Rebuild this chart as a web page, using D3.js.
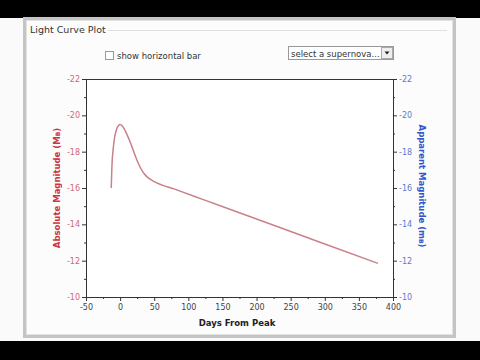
<!DOCTYPE html>
<html>
<head>
<meta charset="utf-8">
<script src="https://cdn.jsdelivr.net/npm/d3@7"></script>
<style>
  body { margin: 0; background: #fafafa; }
  svg { display: block; font-family: "DejaVu Sans", Verdana, sans-serif; }
</style>
</head>
<body>
<svg id="chart" width="480" height="360"></svg>
<script>
// light curve: days from peak vs absolute magnitude
var days = [-13, -12, -10, -8, -5, -2, 0, 3, 6, 10, 15, 20, 25, 30, 35, 40, 50, 80, 120, 200, 300, 378];
var mags = [-16.0, -17.2, -18.2, -18.8, -19.25, -19.45, -19.5, -19.42, -19.25, -18.95, -18.5, -18.0, -17.5, -17.1, -16.8, -16.6, -16.35, -15.94, -15.39, -14.29, -12.92, -11.85];
var xTicks = [-50, 0, 50, 100, 150, 200, 250, 300, 350, 400];
var yTicks = [-22, -20, -18, -16, -14, -12, -10];

var svg = d3.select('#chart');
var margin = { left: 86, right: 393, top: 79, bottom: 297 };
var plain = function (d) { return String(d); };   // hyphen, not unicode minus

// window chrome
svg.append('rect').attr('x', 0).attr('y', 0).attr('width', 480).attr('height', 18).attr('fill', '#000');
svg.append('rect').attr('x', 0).attr('y', 341).attr('width', 480).attr('height', 19).attr('fill', '#000');
svg.append('rect').attr('x', 24.5).attr('y', 18.5).attr('width', 430).attr('height', 318)
    .attr('fill', '#fcfcfc').attr('stroke', '#c4c4c4').attr('stroke-width', 3);
svg.append('rect').attr('x', 26.5).attr('y', 20.5).attr('width', 426).attr('height', 314)
    .attr('fill', 'none').attr('stroke', '#e2e2e2').attr('stroke-width', 1);
svg.append('line').attr('x1', 108).attr('x2', 447).attr('y1', 30.5).attr('y2', 30.5)
    .attr('stroke', '#e0e0e0');
svg.append('text').attr('x', 30).attr('y', 33).attr('font-size', 9.5).attr('fill', '#333')
    .text('Light Curve Plot');

// controls
svg.append('rect').attr('x', 105.5).attr('y', 51.5).attr('width', 8).attr('height', 8)
    .attr('fill', '#fff').attr('stroke', '#999');
svg.append('text').attr('x', 117).attr('y', 59).attr('font-size', 8.5).attr('fill', '#333')
    .text('show horizontal bar');
svg.append('rect').attr('x', 288.5).attr('y', 46.5).attr('width', 105).attr('height', 13)
    .attr('fill', '#fff').attr('stroke', '#999');
svg.append('text').attr('x', 291).attr('y', 56.5).attr('font-size', 8.5).attr('fill', '#333')
    .text('select a supernova...');
svg.append('rect').attr('x', 381.5).attr('y', 47.5).attr('width', 11).attr('height', 11)
    .attr('fill', '#eee').attr('stroke', '#aaa');
svg.append('path').attr('d', 'M384.5,51.5 L389.5,51.5 L387,54.5 Z').attr('fill', '#222');

// scales
var x = d3.scaleLinear().domain([-50, 400]).range([margin.left, margin.right]);
var y = d3.scaleLinear().domain([-22, -10]).range([margin.top, margin.bottom]);

svg.append('rect').attr('x', margin.left).attr('y', margin.top)
    .attr('width', margin.right - margin.left).attr('height', margin.bottom - margin.top)
    .attr('fill', '#fff');

// minor ticks
var minorX = svg.append('g').attr('transform', 'translate(0,' + margin.bottom + ')')
    .call(d3.axisBottom(x).tickValues(d3.range(-25, 400, 50)).tickSize(2).tickFormat(''));
var minorL = svg.append('g').attr('transform', 'translate(' + margin.left + ',0)')
    .call(d3.axisLeft(y).tickValues(d3.range(-21, -10, 2)).tickSize(2).tickFormat(''));
var minorR = svg.append('g').attr('transform', 'translate(' + margin.right + ',0)')
    .call(d3.axisRight(y).tickValues(d3.range(-21, -10, 2)).tickSize(2).tickFormat(''));

var xAxis = svg.append('g').attr('transform', 'translate(0,' + margin.bottom + ')')
    .call(d3.axisBottom(x).tickValues(xTicks).tickSize(4).tickPadding(3).tickFormat(plain));
var yLeft = svg.append('g').attr('transform', 'translate(' + margin.left + ',0)')
    .call(d3.axisLeft(y).tickValues(yTicks).tickSize(4).tickPadding(2).tickFormat(plain));
var yRight = svg.append('g').attr('transform', 'translate(' + margin.right + ',0)')
    .call(d3.axisRight(y).tickValues(yTicks).tickSize(4).tickPadding(2).tickFormat(plain));

[minorX, minorL, minorR, xAxis, yLeft, yRight].forEach(function (g) {
    g.selectAll('path.domain').attr('stroke', '#333');
    g.selectAll('.tick line').attr('stroke', '#333');
    g.selectAll('.tick text').attr('font-family', '"DejaVu Sans", Verdana, sans-serif').attr('font-size', 8);
});
xAxis.selectAll('.tick text').attr('fill', '#444');
yLeft.selectAll('.tick text').attr('fill', '#d06878');
yRight.selectAll('.tick text').attr('fill', '#5b7ad0');

// top border of plot box
svg.append('line').attr('x1', margin.left).attr('x2', margin.right)
    .attr('y1', margin.top + 0.5).attr('y2', margin.top + 0.5).attr('stroke', '#333');

// axis titles
svg.append('text').attr('x', 237).attr('y', 326).attr('text-anchor', 'middle')
    .attr('font-size', 8.5).attr('font-weight', 'bold').attr('fill', '#222')
    .text('Days From Peak');
var lt = svg.append('text').attr('transform', 'translate(60,188) rotate(-90)')
    .attr('text-anchor', 'middle').attr('font-size', 8.5).attr('font-weight', 'bold').attr('fill', '#cc3344');
lt.append('tspan').text('Absolute Magnitude (M');
lt.append('tspan').attr('font-size', 6).text('B');
lt.append('tspan').text(')');
var rt = svg.append('text').attr('transform', 'translate(419,186) rotate(90)')
    .attr('text-anchor', 'middle').attr('font-size', 8.5).attr('font-weight', 'bold').attr('fill', '#3355cc');
rt.append('tspan').text('Apparent Magnitude (m');
rt.append('tspan').attr('font-size', 6).text('B');
rt.append('tspan').text(')');

// curve
var line = d3.line()
    .x(function (d, i) { return x(days[i]); })
    .y(function (d, i) { return y(mags[i]); })
    .curve(d3.curveMonotoneX);
svg.append('path').datum(days).attr('d', line)
    .attr('fill', 'none').attr('stroke', '#c98288').attr('stroke-width', 1.5);
</script>
</body>
</html>
